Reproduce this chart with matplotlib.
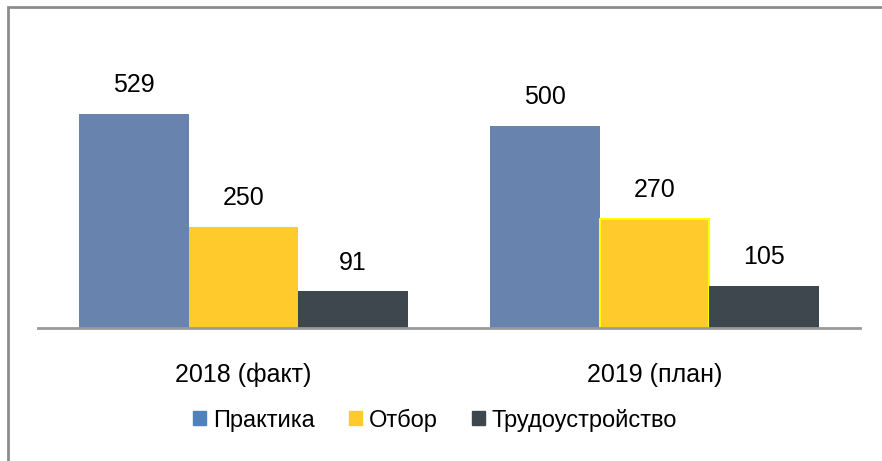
import matplotlib.pyplot as plt
import matplotlib.font_manager as fm
from matplotlib.patches import Rectangle
import numpy as np

years = ['2018 (факт)', '2019 (план)']
series = ['Практика', 'Отбор', 'Трудоустройство']
practice = [529, 500]
selection = [250, 270]
employment = [91, 105]

colors = ['#6783AE', '#FFCA2C', '#3E464E']
legend_colors = ['#4F81BD', '#FFCA2C', '#3E464E']

names = {f.name for f in fm.fontManager.ttflist}
family = 'Liberation Sans Narrow' if 'Liberation Sans Narrow' in names else 'Liberation Sans'
plt.rcParams['font.family'] = [family, 'DejaVu Sans']

fig = plt.figure(figsize=(8.82, 4.61), dpi=100)
W, H = 882, 461
ax = fig.add_axes([38 / W, (H - 328) / H, (860 - 38) / W, 263 / H])

x = np.arange(len(years))
w = 0.8 / 3
data = [practice, selection, employment]
for i, (vals, c) in enumerate(zip(data, colors)):
    edge = ['none', '#FFFF00'] if i == 1 else ['none', 'none']
    bars = ax.bar(x + (i - 1) * w, vals, w, color=c, edgecolor=edge, linewidth=1.5)
    for b, v in zip(bars, vals):
        ax.annotate(str(v), (b.get_x() + b.get_width() / 2, v), xytext=(0, 12),
                    textcoords='offset points', ha='center', va='bottom', fontsize=18)

ax.set_xlim(-0.5, 1.5)
ax.set_ylim(0, 650)
for s in ['top', 'right', 'left']:
    ax.spines[s].set_visible(False)
ax.spines['bottom'].set_color('#999999')
ax.spines['bottom'].set_linewidth(2)
ax.set_yticks([])
ax.set_xticks(x)
ax.set_xticklabels(years, fontsize=18)
ax.tick_params(axis='x', length=0, pad=25)

handles = [Rectangle((0, 0), 1, 1, color=c) for c in legend_colors]
fig.legend(handles, series, loc='center', bbox_to_anchor=(435 / W, (H - 420) / H), ncol=3,
           frameon=False, fontsize=17, handlelength=0.55, handleheight=0.55,
           handletextpad=0.3, columnspacing=1.45)

# outer frame (partially cut in reference)
fig.add_artist(Rectangle((8 / W, -0.1), 1.2, 1.1 - 7 / H, transform=fig.transFigure,
                         fill=False, edgecolor='#8C8C8C', linewidth=2))

fig.savefig('out.png', dpi=100)
